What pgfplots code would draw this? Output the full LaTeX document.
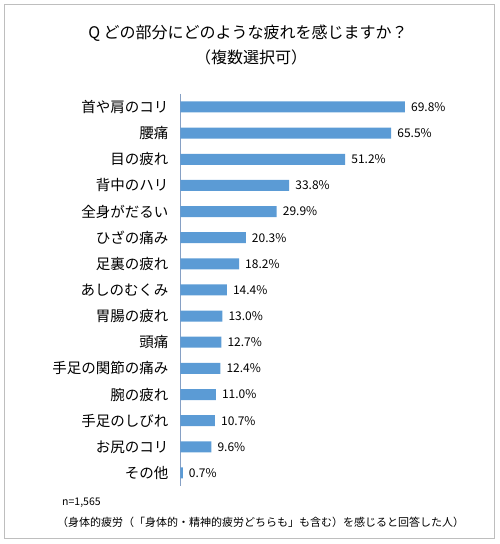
\documentclass[border=0pt]{standalone}
\usepackage{pgfplots}
\pgfplotsset{compat=1.18}
\usepackage{fontspec}
\setmainfont{Noto Sans CJK JP}
\definecolor{barblue}{RGB}{91,155,213}
\definecolor{axisc}{RGB}{134,160,196}
\definecolor{framec}{RGB}{190,190,190}
\begin{document}
\begin{tikzpicture}[x=1pt,y=1pt]
\path (0,0) rectangle (500,-544);
\draw[framec,line width=1pt] (4.5,-4.5) rectangle (494.5,-538.5);
\node[font=\fontsize{16}{18}\selectfont] at (248,-33) {Q どの部分にどのような疲れを感じますか？};
\node[font=\fontsize{16}{18}\selectfont] at (251,-57) {（複数選択可）};
\begin{axis}[
  at={(180.5pt,-93.9pt)}, anchor=north west,
  scale only axis, width=241.2pt, height=392.1pt,
  xbar, bar width=11pt,
  xmin=0, xmax=75, ymin=-0.5, ymax=14.5,
  y dir=reverse,
  axis x line=none,
  axis y line*=left,
  y axis line style={axisc, line width=1pt, -},
  ytick={0,...,14},
  yticklabels={首や肩のコリ,腰痛,目の疲れ,背中のハリ,全身がだるい,ひざの痛み,足裏の疲れ,あしのむくみ,胃腸の疲れ,頭痛,手足の関節の痛み,腕の疲れ,手足のしびれ,お尻のコリ,その他},
  major tick length=0pt,
  yticklabel style={font=\fontsize{14.5}{16}\selectfont, inner sep=0pt, xshift=-12pt},
  nodes near coords={\pgfmathprintnumber[fixed,fixed zerofill,precision=1,assume math mode=true]{\pgfplotspointmeta}\%},
  every node near coord/.append style={font=\fontsize{12}{14}\selectfont, inner sep=0pt, xshift=6pt, anchor=west},
  clip=false,
]
\addplot[fill=barblue, draw=none] coordinates {
(69.8,0) (65.5,1) (51.2,2) (33.8,3) (29.9,4) (20.3,5) (18.2,6) (14.4,7) (13.0,8) (12.7,9) (12.4,10) (11.0,11) (10.7,12) (9.6,13) (0.7,14)
};
\end{axis}
\node[anchor=west, inner sep=0pt, font=\fontsize{10.5}{12}\selectfont] at (62,-503) {n=1,565};
\node[anchor=west, inner sep=0pt, font=\fontsize{11}{13}\selectfont] at (57,-522) {（身体的疲労（「身体的・精神的疲労どちらも」も含む）を感じると回答した人）};
\end{tikzpicture}
\end{document}
